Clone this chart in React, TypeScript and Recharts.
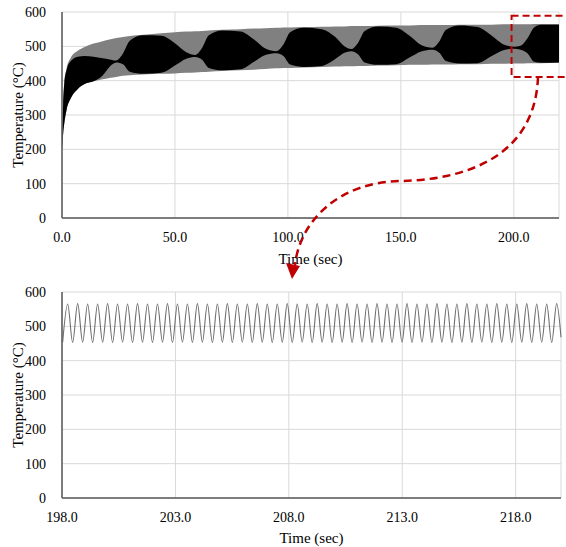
import {
  ComposedChart,
  Area,
  Line,
  XAxis,
  YAxis,
  CartesianGrid,
  ReferenceArea,
} from "recharts";

const FONT = "'Liberation Serif', 'Times New Roman', serif";

// overview 0-220 s: outer envelope of the oscillation and the dark beat pattern
const overviewTime = [
  0, 0.5, 1, 2, 4, 7, 10, 14, 18, 21,
  24, 27, 30, 36, 44, 50, 55,
  59, 62, 65, 71, 79, 85, 90,
  95, 98, 101, 107, 115, 121, 125,
  128, 131, 134, 140, 148, 154, 159,
  164, 167, 170, 176, 184, 190, 195,
  200, 203, 206, 209, 212, 220,
];
const envelopeLow = [
  200, 245, 275, 314, 350, 376, 390, 398, 404, 408,
  411, 414, 416, 418, 420, 421, 423,
  424, 425, 426, 428, 430, 432, 434,
  436, 437, 437, 438, 440, 441, 442,
  442, 443, 443, 444, 445, 446, 446,
  447, 447, 447, 448, 448, 449, 449,
  450, 450, 451, 451, 451, 452,
];
const envelopeHigh = [
  200, 330, 395, 435, 468, 487, 498, 508, 515, 520,
  524, 527, 530, 534, 538, 541, 543,
  544, 545, 546, 548, 550, 552, 553,
  554, 555, 555, 556, 557, 558, 558,
  559, 559, 559, 560, 561, 561, 562,
  562, 562, 562, 563, 563, 563, 564,
  564, 564, 564, 565, 565, 565,
];
const denseLow = [
  200, 245, 275, 314, 350, 376, 390, 398, 415, 440,
  453, 448, 426, 420, 423, 444, 464,
  469, 461, 437, 430, 433, 455, 475,
  480, 472, 447, 440, 443, 463, 481,
  486, 477, 453, 446, 448, 468, 485,
  490, 481, 457, 450, 451, 471, 488,
  493, 490, 480, 455, 452, 453,
];
const denseHigh = [
  200, 330, 390, 430, 458, 470, 472, 470, 465, 462,
  459, 479, 516, 532, 531, 509, 483,
  475, 495, 532, 546, 543, 520, 494,
  486, 505, 541, 554, 550, 527, 500,
  492, 510, 545, 558, 554, 530, 504,
  496, 514, 548, 561, 556, 532, 507,
  499, 502, 523, 555, 563, 563,
];

// detail 198-220 s: successive troughs and peaks
const zoomTime = [
  198.03, 198.25, 198.47, 198.69, 198.91, 199.13, 199.35, 199.57, 199.79, 200.01,
  200.23, 200.45, 200.67, 200.89, 201.11, 201.33, 201.55, 201.77, 201.99, 202.21,
  202.43, 202.65, 202.87, 203.09, 203.31, 203.53, 203.75, 203.97, 204.19, 204.41,
  204.63, 204.85, 205.07, 205.29, 205.51, 205.73, 205.95, 206.17, 206.39, 206.61,
  206.83, 207.05, 207.27, 207.49, 207.71, 207.93, 208.15, 208.37, 208.59, 208.81,
  209.03, 209.25, 209.47, 209.69, 209.91, 210.13, 210.35, 210.57, 210.79, 211.01,
  211.23, 211.45, 211.67, 211.89, 212.11, 212.33, 212.55, 212.77, 212.99, 213.21,
  213.43, 213.65, 213.87, 214.09, 214.31, 214.53, 214.75, 214.97, 215.19, 215.41,
  215.63, 215.85, 216.07, 216.29, 216.51, 216.73, 216.95, 217.17, 217.39, 217.61,
  217.83, 218.05, 218.27, 218.49, 218.71, 218.93, 219.15, 219.37, 219.59, 219.81,
  220.0,
];
const zoomTemp = [
  454, 565, 453, 566, 454, 565, 453, 565, 454, 566,
  453, 565, 454, 565, 453, 566, 454, 565, 453, 565,
  454, 566, 453, 565, 454, 565, 453, 566, 454, 565,
  453, 565, 454, 566, 453, 565, 454, 565, 453, 566,
  454, 565, 453, 565, 454, 566, 453, 565, 454, 565,
  453, 566, 454, 565, 453, 565, 454, 566, 453, 565,
  454, 565, 453, 566, 454, 565, 453, 565, 454, 566,
  453, 565, 454, 565, 453, 566, 454, 565, 453, 565,
  454, 566, 453, 565, 454, 565, 453, 566, 454, 565,
  453, 565, 454, 566, 453, 565, 454, 565, 453, 566,
  468,
];

const overviewTicks = [0, 50, 100, 150, 200];
const zoomTicks = [198, 203, 208, 213, 218];
const tempTicks = [0, 100, 200, 300, 400, 500, 600];

const overviewData = overviewTime.map((t, i) => ({
  t,
  envelope: [envelopeLow[i], envelopeHigh[i]],
  dense: [denseLow[i], denseHigh[i]],
}));
const zoomData = zoomTime.map((t, i) => ({ t, temp: zoomTemp[i] }));

const tickStyle = { fontFamily: FONT, fontSize: 14, fill: "#000", style: { fontFamily: FONT } };
const labelStyle = { fontFamily: FONT, fontSize: 15, fill: "#000" };
const axisLine = { stroke: "#595959", strokeWidth: 1.5 };
const fmt = (v: number) => v.toFixed(1);

const App = () => {
  return (
    <div
      style={{
        position: "absolute",
        left: 0,
        top: 0,
        width: 566,
        height: 547,
        background: "#fff",
        fontFamily: FONT,
      }}
    >
      <div style={{ position: "absolute", left: 0, top: 0 }}>
        <ComposedChart
          width={566}
          height={270}
          data={overviewData}
          margin={{ top: 12, right: 7, bottom: 0, left: 0 }}
          style={{ fontFamily: FONT }}
        >
          <CartesianGrid stroke="#d9d9d9" />
          <XAxis
            dataKey="t"
            type="number"
            domain={[0, 220]}
            ticks={overviewTicks}
            tickFormatter={fmt}
            tickLine={false}
            axisLine={axisLine}
            tick={tickStyle}
            tickMargin={8}
            height={52}
            label={{ value: "Time (sec)", position: "insideBottom", offset: 6, style: labelStyle }}
          />
          <YAxis
            type="number"
            domain={[0, 600]}
            ticks={tempTicks}
            tickLine={false}
            axisLine={axisLine}
            tick={tickStyle}
            tickMargin={10}
            width={62}
            label={{
              value: "Temperature (°C)",
              angle: -90,
              position: "insideLeft",
              offset: 18,
              textAnchor: "middle",
              style: { ...labelStyle, textAnchor: "middle" },
            }}
          />
          <Area
            dataKey="envelope"
            type="monotone"
            stroke="none"
            fill="#808080"
            fillOpacity={1}
            isAnimationActive={false}
          />
          <Area
            dataKey="dense"
            type="monotone"
            stroke="none"
            fill="#000"
            fillOpacity={1}
            isAnimationActive={false}
          />
          <ReferenceArea
            x1={199}
            x2={224}
            y1={411}
            y2={589}
            ifOverflow="visible"
            fill="none"
            stroke="#c00000"
            strokeWidth={2}
            strokeDasharray="7 4"
          />
        </ComposedChart>
      </div>

      <div style={{ position: "absolute", left: 0, top: 280 }}>
        <ComposedChart
          width={566}
          height={267}
          data={zoomData}
          margin={{ top: 12, right: 5, bottom: 0, left: 0 }}
          style={{ fontFamily: FONT }}
        >
          <CartesianGrid stroke="#d9d9d9" />
          <XAxis
            dataKey="t"
            type="number"
            domain={[198, 220]}
            ticks={zoomTicks}
            tickFormatter={fmt}
            tickLine={false}
            axisLine={axisLine}
            tick={tickStyle}
            tickMargin={8}
            height={49}
            label={{ value: "Time (sec)", position: "insideBottom", offset: 4, style: labelStyle }}
          />
          <YAxis
            type="number"
            domain={[0, 600]}
            ticks={tempTicks}
            tickLine={false}
            axisLine={axisLine}
            tick={tickStyle}
            tickMargin={10}
            width={62}
            label={{
              value: "Temperature (°C)",
              angle: -90,
              position: "insideLeft",
              offset: 18,
              textAnchor: "middle",
              style: { ...labelStyle, textAnchor: "middle" },
            }}
          />
          <Line
            dataKey="temp"
            type="monotone"
            stroke="#6e6e6e"
            strokeWidth={1.1}
            dot={false}
            isAnimationActive={false}
          />
        </ComposedChart>
      </div>

      {/* callout from the boxed window down to the detail plot */}
      <svg
        width={566}
        height={547}
        style={{ position: "absolute", left: 0, top: 0, pointerEvents: "none" }}
      >
        <path
          d="M538,77 C535,160 460,180 400,181 C340,182 300,220 295,265"
          fill="none"
          stroke="#c00000"
          strokeWidth={2.5}
          strokeDasharray="8 5"
        />
        <polygon points="286,263 300,266 292,279" fill="#c00000" />
      </svg>
    </div>
  );
};

export default App;
